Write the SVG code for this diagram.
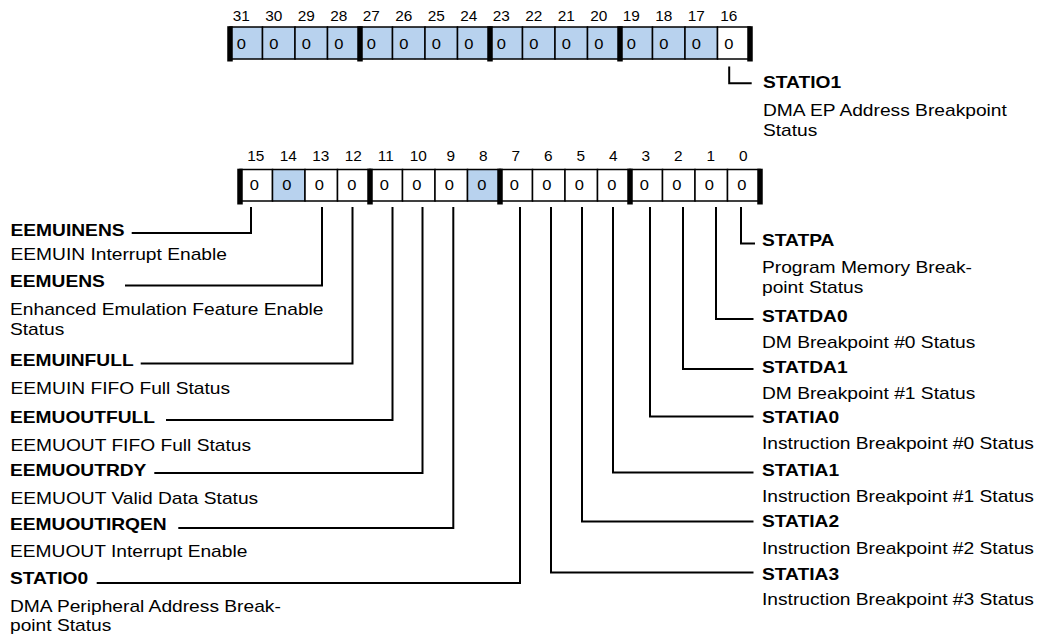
<svg xmlns="http://www.w3.org/2000/svg" width="1040" height="635" viewBox="0 0 1040 635">
<style>
.bg{fill:#fff}
.c{fill:#fff;stroke:#000;stroke-width:1.5}
.b{fill:#b8d2ee;stroke:#000;stroke-width:1.5}
.bar{fill:#000}
.num{font-family:"Liberation Sans",Arial,sans-serif;font-size:14px;text-anchor:middle;fill:#000}
.val{font-family:"Liberation Sans",Arial,sans-serif;font-size:15px;text-anchor:middle;fill:#000}
.lbl{font-family:"Liberation Sans",Arial,sans-serif;font-size:16px;font-weight:bold;fill:#000}
.dsc{font-family:"Liberation Sans",Arial,sans-serif;font-size:16px;fill:#000}
.ln{fill:none;stroke:#000;stroke-width:2}
</style>
<rect class="bg" x="0" y="0" width="1040" height="635"/>

<g id="register-high">
<rect class="b" x="230" y="27" width="32.5" height="32"/>
<rect class="b" x="262.5" y="27" width="32.5" height="32"/>
<rect class="b" x="295" y="27" width="32.5" height="32"/>
<rect class="b" x="327.5" y="27" width="32.5" height="32"/>
<rect class="b" x="360" y="27" width="32.5" height="32"/>
<rect class="b" x="392.5" y="27" width="32.5" height="32"/>
<rect class="b" x="425" y="27" width="32.5" height="32"/>
<rect class="b" x="457.5" y="27" width="32.5" height="32"/>
<rect class="b" x="490" y="27" width="32.5" height="32"/>
<rect class="b" x="522.5" y="27" width="32.5" height="32"/>
<rect class="b" x="555" y="27" width="32.5" height="32"/>
<rect class="b" x="587.5" y="27" width="32.5" height="32"/>
<rect class="b" x="620" y="27" width="32.5" height="32"/>
<rect class="b" x="652.5" y="27" width="32.5" height="32"/>
<rect class="b" x="685" y="27" width="32.5" height="32"/>
<rect class="c" x="717.5" y="27" width="32.5" height="32"/>
<rect class="bar" x="227.25" y="26.2" width="5.5" height="35.3"/>
<rect class="bar" x="357.25" y="26.2" width="5.5" height="35.3"/>
<rect class="bar" x="487.25" y="26.2" width="5.5" height="35.3"/>
<rect class="bar" x="617.25" y="26.2" width="5.5" height="35.3"/>
<rect class="bar" x="747.25" y="26.2" width="5.5" height="35.3"/>
<text class="num" transform="translate(241.25 20.5) scale(1.1 1)">31</text>
<text class="num" transform="translate(273.75 20.5) scale(1.1 1)">30</text>
<text class="num" transform="translate(306.25 20.5) scale(1.1 1)">29</text>
<text class="num" transform="translate(338.75 20.5) scale(1.1 1)">28</text>
<text class="num" transform="translate(371.25 20.5) scale(1.1 1)">27</text>
<text class="num" transform="translate(403.75 20.5) scale(1.1 1)">26</text>
<text class="num" transform="translate(436.25 20.5) scale(1.1 1)">25</text>
<text class="num" transform="translate(468.75 20.5) scale(1.1 1)">24</text>
<text class="num" transform="translate(501.25 20.5) scale(1.1 1)">23</text>
<text class="num" transform="translate(533.75 20.5) scale(1.1 1)">22</text>
<text class="num" transform="translate(566.25 20.5) scale(1.1 1)">21</text>
<text class="num" transform="translate(598.75 20.5) scale(1.1 1)">20</text>
<text class="num" transform="translate(631.25 20.5) scale(1.1 1)">19</text>
<text class="num" transform="translate(663.75 20.5) scale(1.1 1)">18</text>
<text class="num" transform="translate(696.25 20.5) scale(1.1 1)">17</text>
<text class="num" transform="translate(728.75 20.5) scale(1.1 1)">16</text>
<text class="val" transform="translate(241.25 48.5) scale(1.1 1)">0</text>
<text class="val" transform="translate(273.75 48.5) scale(1.1 1)">0</text>
<text class="val" transform="translate(306.25 48.5) scale(1.1 1)">0</text>
<text class="val" transform="translate(338.75 48.5) scale(1.1 1)">0</text>
<text class="val" transform="translate(371.25 48.5) scale(1.1 1)">0</text>
<text class="val" transform="translate(403.75 48.5) scale(1.1 1)">0</text>
<text class="val" transform="translate(436.25 48.5) scale(1.1 1)">0</text>
<text class="val" transform="translate(468.75 48.5) scale(1.1 1)">0</text>
<text class="val" transform="translate(501.25 48.5) scale(1.1 1)">0</text>
<text class="val" transform="translate(533.75 48.5) scale(1.1 1)">0</text>
<text class="val" transform="translate(566.25 48.5) scale(1.1 1)">0</text>
<text class="val" transform="translate(598.75 48.5) scale(1.1 1)">0</text>
<text class="val" transform="translate(631.25 48.5) scale(1.1 1)">0</text>
<text class="val" transform="translate(663.75 48.5) scale(1.1 1)">0</text>
<text class="val" transform="translate(696.25 48.5) scale(1.1 1)">0</text>
<text class="val" transform="translate(728.75 48.5) scale(1.1 1)">0</text>
</g>

<g id="register-low">
<rect class="c" x="240" y="169.5" width="32.5" height="31.5"/>
<rect class="b" x="272.5" y="169.5" width="32.5" height="31.5"/>
<rect class="c" x="305" y="169.5" width="32.5" height="31.5"/>
<rect class="c" x="337.5" y="169.5" width="32.5" height="31.5"/>
<rect class="c" x="370" y="169.5" width="32.5" height="31.5"/>
<rect class="c" x="402.5" y="169.5" width="32.5" height="31.5"/>
<rect class="c" x="435" y="169.5" width="32.5" height="31.5"/>
<rect class="b" x="467.5" y="169.5" width="32.5" height="31.5"/>
<rect class="c" x="500" y="169.5" width="32.5" height="31.5"/>
<rect class="c" x="532.5" y="169.5" width="32.5" height="31.5"/>
<rect class="c" x="565" y="169.5" width="32.5" height="31.5"/>
<rect class="c" x="597.5" y="169.5" width="32.5" height="31.5"/>
<rect class="c" x="630" y="169.5" width="32.5" height="31.5"/>
<rect class="c" x="662.5" y="169.5" width="32.5" height="31.5"/>
<rect class="c" x="695" y="169.5" width="32.5" height="31.5"/>
<rect class="c" x="727.5" y="169.5" width="32.5" height="31.5"/>
<rect class="bar" x="237.25" y="168.7" width="5.5" height="35.8"/>
<rect class="bar" x="367.25" y="168.7" width="5.5" height="35.8"/>
<rect class="bar" x="497.25" y="168.7" width="5.5" height="35.8"/>
<rect class="bar" x="627.25" y="168.7" width="5.5" height="35.8"/>
<rect class="bar" x="757.25" y="168.7" width="5.5" height="35.8"/>
<text class="num" transform="translate(255.75 160.5) scale(1.1 1)">15</text>
<text class="num" transform="translate(288.25 160.5) scale(1.1 1)">14</text>
<text class="num" transform="translate(320.75 160.5) scale(1.1 1)">13</text>
<text class="num" transform="translate(353.25 160.5) scale(1.1 1)">12</text>
<text class="num" transform="translate(385.75 160.5) scale(1.1 1)">11</text>
<text class="num" transform="translate(418.25 160.5) scale(1.1 1)">10</text>
<text class="num" transform="translate(450.75 160.5) scale(1.1 1)">9</text>
<text class="num" transform="translate(483.25 160.5) scale(1.1 1)">8</text>
<text class="num" transform="translate(515.75 160.5) scale(1.1 1)">7</text>
<text class="num" transform="translate(548.25 160.5) scale(1.1 1)">6</text>
<text class="num" transform="translate(580.75 160.5) scale(1.1 1)">5</text>
<text class="num" transform="translate(613.25 160.5) scale(1.1 1)">4</text>
<text class="num" transform="translate(645.75 160.5) scale(1.1 1)">3</text>
<text class="num" transform="translate(678.25 160.5) scale(1.1 1)">2</text>
<text class="num" transform="translate(710.75 160.5) scale(1.1 1)">1</text>
<text class="num" transform="translate(743.25 160.5) scale(1.1 1)">0</text>
<text class="val" transform="translate(254.25 190) scale(1.1 1)">0</text>
<text class="val" transform="translate(286.75 190) scale(1.1 1)">0</text>
<text class="val" transform="translate(319.25 190) scale(1.1 1)">0</text>
<text class="val" transform="translate(351.75 190) scale(1.1 1)">0</text>
<text class="val" transform="translate(384.25 190) scale(1.1 1)">0</text>
<text class="val" transform="translate(416.75 190) scale(1.1 1)">0</text>
<text class="val" transform="translate(449.25 190) scale(1.1 1)">0</text>
<text class="val" transform="translate(481.75 190) scale(1.1 1)">0</text>
<text class="val" transform="translate(514.25 190) scale(1.1 1)">0</text>
<text class="val" transform="translate(546.75 190) scale(1.1 1)">0</text>
<text class="val" transform="translate(579.25 190) scale(1.1 1)">0</text>
<text class="val" transform="translate(611.75 190) scale(1.1 1)">0</text>
<text class="val" transform="translate(644.25 190) scale(1.1 1)">0</text>
<text class="val" transform="translate(676.75 190) scale(1.1 1)">0</text>
<text class="val" transform="translate(709.25 190) scale(1.1 1)">0</text>
<text class="val" transform="translate(741.75 190) scale(1.1 1)">0</text>
</g>

<g id="connectors">
<path class="ln" d="M729.2 66.5V83.2H751.7"/>
<path class="ln" d="M251 207V233H131.7"/>
<path class="ln" d="M322 207V285.5H125"/>
<path class="ln" d="M352.5 207V363.5H140.7"/>
<path class="ln" d="M392.5 207V420H166"/>
<path class="ln" d="M422.5 207V473H154.3"/>
<path class="ln" d="M453.3 207V528H178.3"/>
<path class="ln" d="M520 207V583H96.7"/>
<path class="ln" d="M741 207V243.5H755"/>
<path class="ln" d="M716 207V319H753.5"/>
<path class="ln" d="M683 207V369H753.5"/>
<path class="ln" d="M650 207V416.5H753.5"/>
<path class="ln" d="M613 207V472.5H753.5"/>
<path class="ln" d="M582 207V521.5H753.5"/>
<path class="ln" d="M551 207V572.5H753.5"/>
</g>

<g id="f-statio1">
<text class="lbl" transform="translate(763 88.3) scale(1.2 1)">STATIO1</text>
<text class="dsc" transform="translate(763 115.5) scale(1.2 1)">DMA EP Address Breakpoint</text>
<text class="dsc" transform="translate(763 135.5) scale(1.2 1)">Status</text>
</g>
<g id="f-eemuinens">
<text class="lbl" transform="translate(10.5 235.5) scale(1.2 1)">EEMUINENS</text>
<text class="dsc" transform="translate(10.5 260) scale(1.2 1)">EEMUIN Interrupt Enable</text>
</g>
<g id="f-eemuens">
<text class="lbl" transform="translate(10 287) scale(1.2 1)">EEMUENS</text>
<text class="dsc" transform="translate(10 314.5) scale(1.2 1)">Enhanced Emulation Feature Enable</text>
<text class="dsc" transform="translate(10 335) scale(1.2 1)">Status</text>
</g>
<g id="f-eemuinfull">
<text class="lbl" transform="translate(10 366) scale(1.2 1)">EEMUINFULL</text>
<text class="dsc" transform="translate(10.5 394) scale(1.2 1)">EEMUIN FIFO Full Status</text>
</g>
<g id="f-eemuoutfull">
<text class="lbl" transform="translate(10 422.5) scale(1.2 1)">EEMUOUTFULL</text>
<text class="dsc" transform="translate(10.5 451) scale(1.2 1)">EEMUOUT FIFO Full Status</text>
</g>
<g id="f-eemuoutrdy">
<text class="lbl" transform="translate(10 476) scale(1.2 1)">EEMUOUTRDY</text>
<text class="dsc" transform="translate(10.5 504) scale(1.2 1)">EEMUOUT Valid Data Status</text>
</g>
<g id="f-eemuoutirqen">
<text class="lbl" transform="translate(10 529.5) scale(1.2 1)">EEMUOUTIRQEN</text>
<text class="dsc" transform="translate(10 557) scale(1.2 1)">EEMUOUT Interrupt Enable</text>
</g>
<g id="f-statio0">
<text class="lbl" transform="translate(10 584) scale(1.2 1)">STATIO0</text>
<text class="dsc" transform="translate(10 611.5) scale(1.2 1)">DMA Peripheral Address Break-</text>
<text class="dsc" transform="translate(10 631) scale(1.2 1)">point Status</text>
</g>
<g id="f-statpa">
<text class="lbl" transform="translate(762 245.5) scale(1.2 1)">STATPA</text>
<text class="dsc" transform="translate(762 273) scale(1.2 1)">Program Memory Break-</text>
<text class="dsc" transform="translate(762 293) scale(1.2 1)">point Status</text>
</g>
<g id="f-statda0">
<text class="lbl" transform="translate(762 321.5) scale(1.2 1)">STATDA0</text>
<text class="dsc" transform="translate(762 348) scale(1.2 1)">DM Breakpoint #0 Status</text>
</g>
<g id="f-statda1">
<text class="lbl" transform="translate(762 373) scale(1.2 1)">STATDA1</text>
<text class="dsc" transform="translate(762 398.5) scale(1.2 1)">DM Breakpoint #1 Status</text>
</g>
<g id="f-statia0">
<text class="lbl" transform="translate(762 423) scale(1.2 1)">STATIA0</text>
<text class="dsc" transform="translate(762 448.5) scale(1.2 1)">Instruction Breakpoint #0 Status</text>
</g>
<g id="f-statia1">
<text class="lbl" transform="translate(762 476) scale(1.2 1)">STATIA1</text>
<text class="dsc" transform="translate(762 502) scale(1.2 1)">Instruction Breakpoint #1 Status</text>
</g>
<g id="f-statia2">
<text class="lbl" transform="translate(762 527) scale(1.2 1)">STATIA2</text>
<text class="dsc" transform="translate(762 553.5) scale(1.2 1)">Instruction Breakpoint #2 Status</text>
</g>
<g id="f-statia3">
<text class="lbl" transform="translate(762 580) scale(1.2 1)">STATIA3</text>
<text class="dsc" transform="translate(762 605) scale(1.2 1)">Instruction Breakpoint #3 Status</text>
</g>
</svg>
